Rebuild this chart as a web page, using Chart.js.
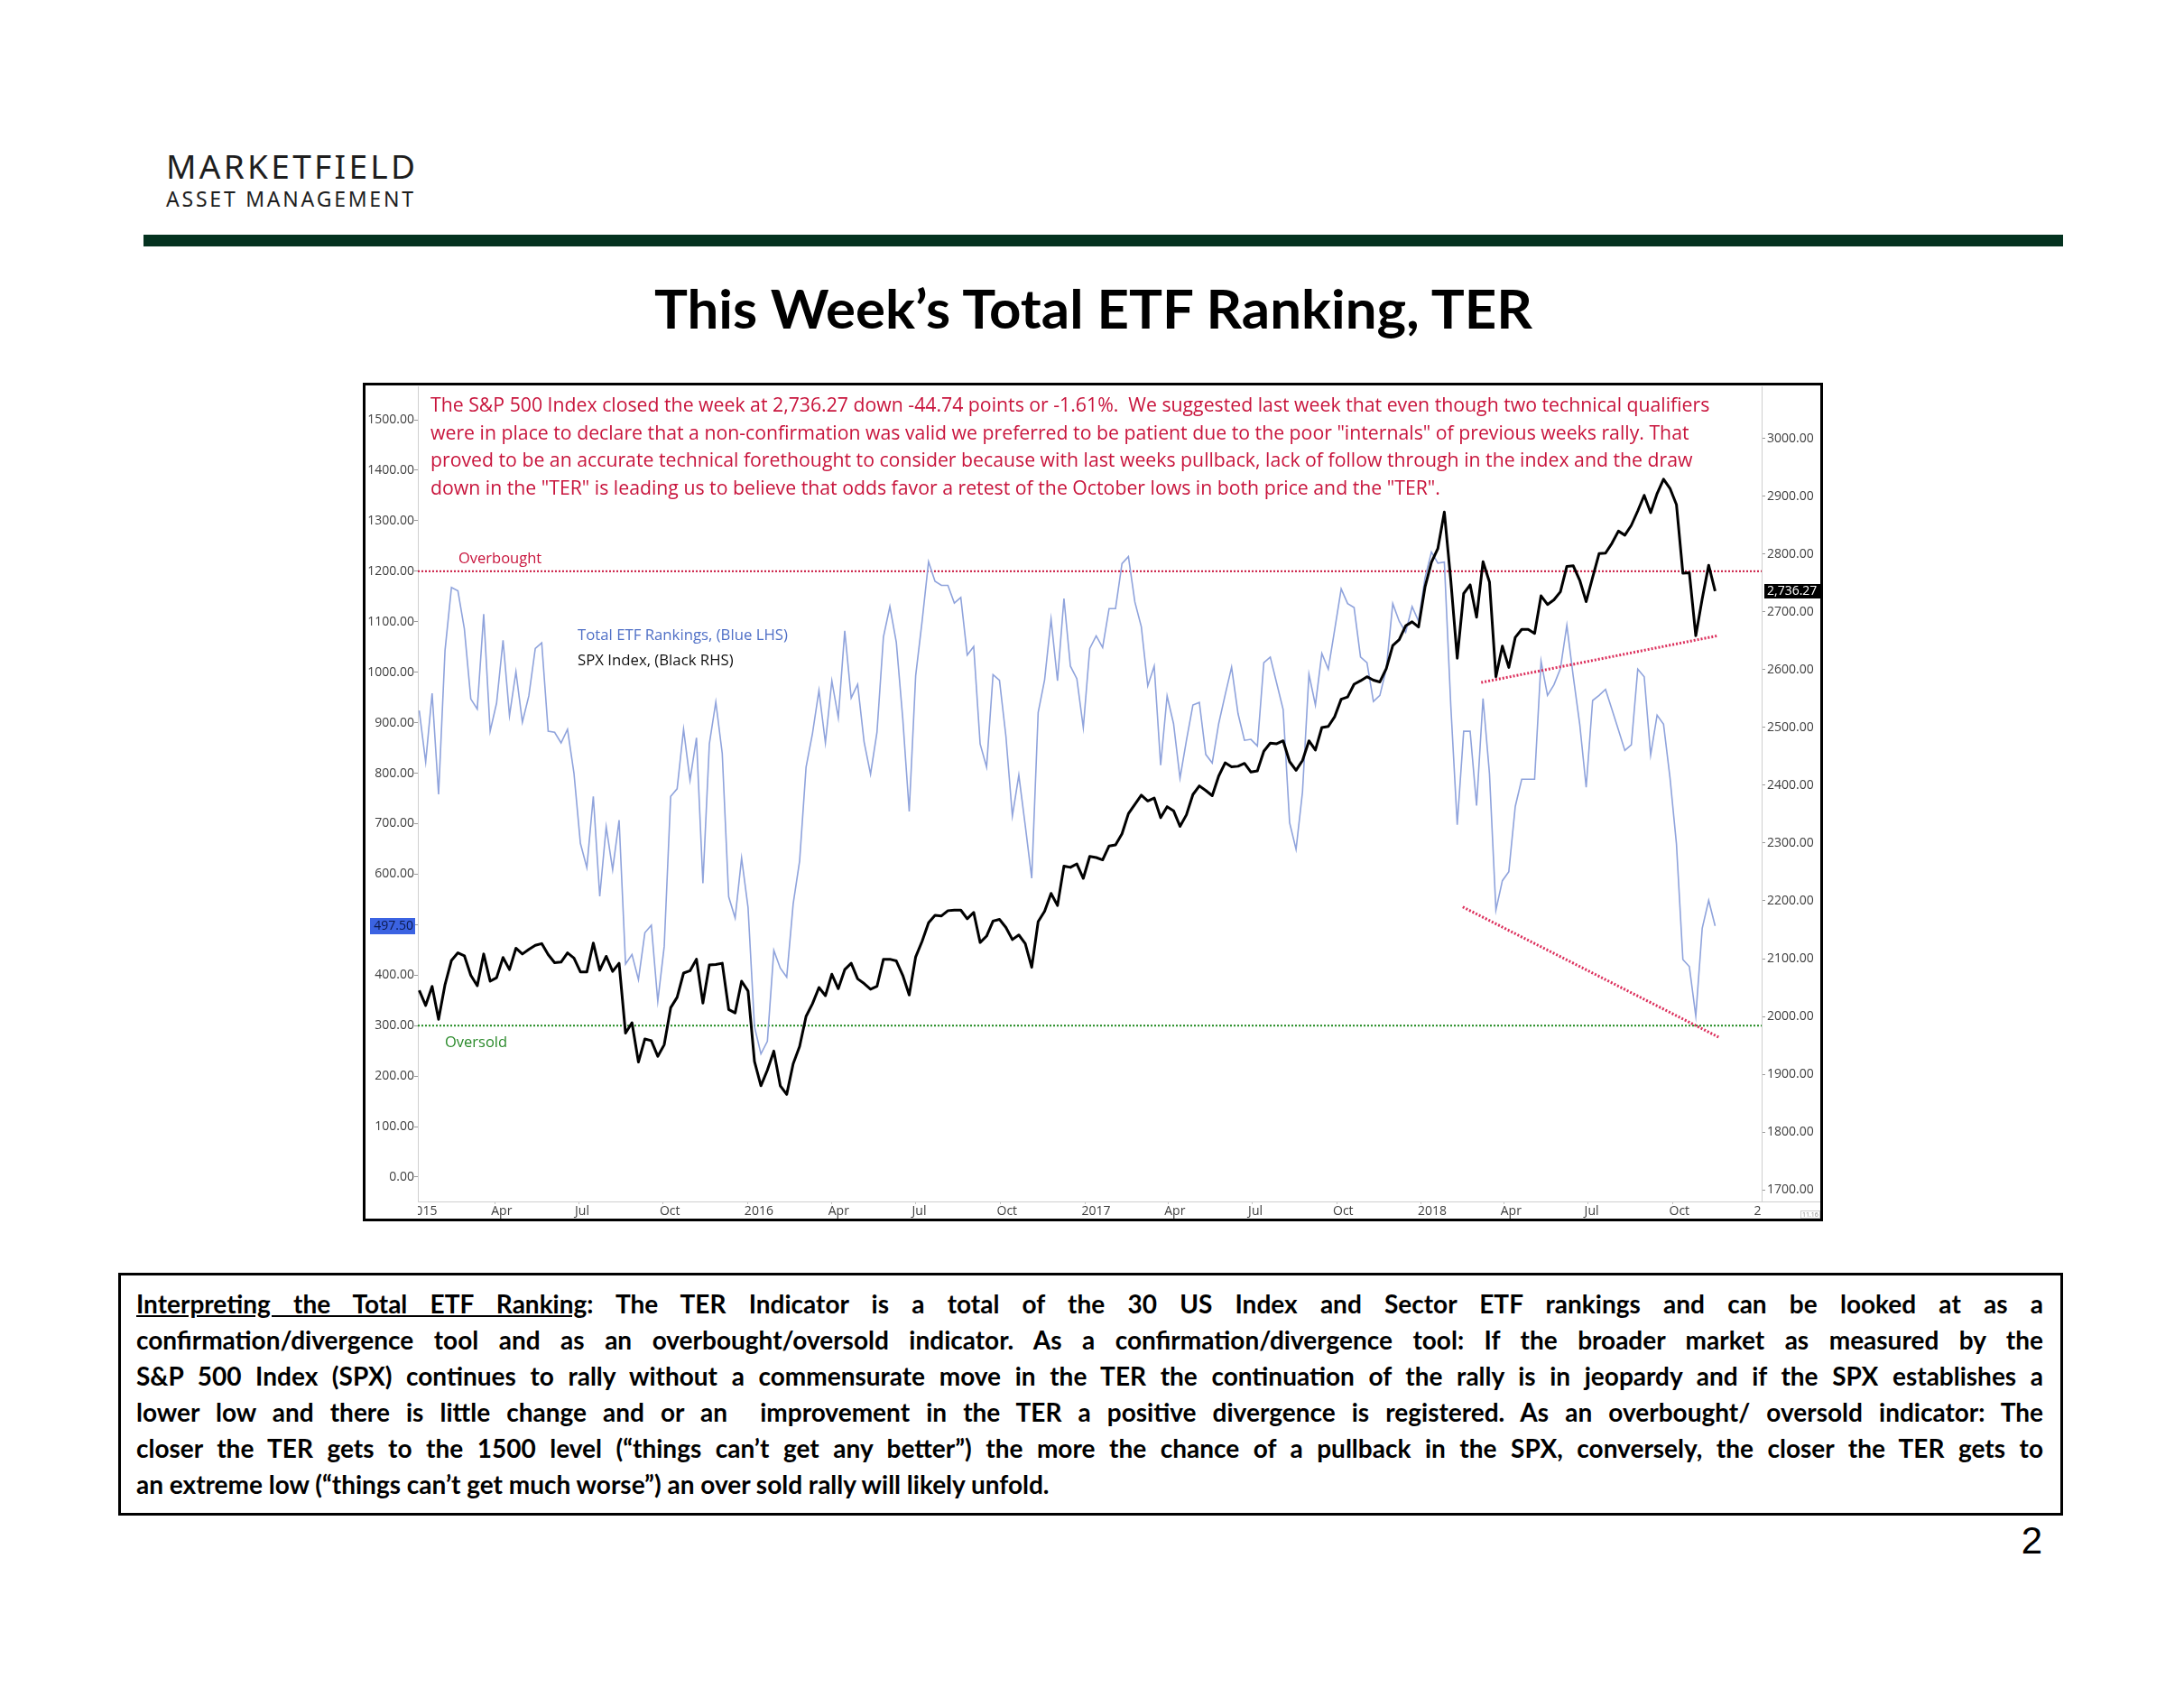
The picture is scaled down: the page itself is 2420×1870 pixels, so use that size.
<!DOCTYPE html>
<html>
<head>
<meta charset="utf-8">
<title>This Week's Total ETF Ranking, TER</title>
<script src="https://cdn.jsdelivr.net/npm/chart.js"></script>
<style>
  html, body { margin: 0; padding: 0; background: #fff; }
  body { width: 2420px; height: 1870px; position: relative; overflow: hidden; font-family: 'Open Sans', sans-serif; }
  .abs { position: absolute; white-space: pre; line-height: 1; }
  #logo1 { left: 184px; top: 158px; font: 400 37px 'Noto Sans', sans-serif; color: #1e1e1e; }
  #logo2 { left: 184px; top: 203.5px; font: 400 23px 'Noto Sans', sans-serif; color: #1e1e1e; }
  #bar { position: absolute; left: 159px; top: 260px; width: 2127px; height: 13px; background: #04321f; }
  #title { left: 725px; top: 305px; font: 700 60px Lato, sans-serif; color: #000; transform-origin: 0 0; }
  #chartBox { position: absolute; left: 402px; top: 424px; width: 1612px; height: 923px; border: 3px solid #000; }
  #chartBox canvas { position: absolute; left: 0; top: 0; }
  #note { left: 477px; top: 433px; font-size: 20px; line-height: 30.5px; color: #c8143c; }
  #overbought { left: 508px; top: 610px; font-size: 16.5px; color: #c8143c; }
  #oversold { left: 493px; top: 1146px; font-size: 16.5px; color: #2a8a2a; }
  #legend { left: 640px; top: 688.5px; font-size: 15.5px; line-height: 28px; }
  #stamp { left: 1995px; top: 1341px; font-size: 7px; color: #888; border: 1px solid #ccc; padding: 0 1px; }
  #notesBox { position: absolute; left: 131px; top: 1410px; width: 2149px; height: 263px; border: 3.5px solid #000; }
  #notes { position: absolute; left: 151px; top: 1424px; width: 2113px; font: 700 28px Lato, sans-serif; color: #000; }
  #notes .ln { height: 40px; line-height: 40px; white-space: pre; }
  #pageNo { left: 2200px; width: 63px; text-align: right; top: 1683px; font: 400 42px 'Liberation Sans', Arial, sans-serif; color: #000; }
</style>
</head>
<body>

<div id="logo1" class="abs">MARKETFIELD</div>
<div id="logo2" class="abs">ASSET MANAGEMENT</div>
<div id="bar"></div>
<div id="title" class="abs">This Week’s Total ETF Ranking, TER</div>

<div id="chartBox"><canvas id="terChart" width="1612" height="923"></canvas></div>

<div id="note" class="abs"><span class="nl">The S&amp;P 500 Index closed the week at 2,736.27 down -44.74 points or -1.61%.  We suggested last week that even though two technical qualifiers</span>
<span class="nl">were in place to declare that a non-confirmation was valid we preferred to be patient due to the poor "internals" of previous weeks rally. That</span>
<span class="nl">proved to be an accurate technical forethought to consider because with last weeks pullback, lack of follow through in the index and the draw</span>
<span class="nl">down in the "TER" is leading us to believe that odds favor a retest of the October lows in both price and the "TER".</span></div>
<div id="overbought" class="abs">Overbought</div>
<div id="oversold" class="abs">Oversold</div>
<div id="legend" class="abs"><span id="leg1" style="color:#4f6fc6">Total ETF Rankings, (Blue LHS)</span>
<span style="color:#111">SPX Index, (Black RHS)</span></div>
<div id="stamp" class="abs">11.16</div>

<div id="notesBox"></div>
<div id="notes">
  <div class="ln"><span><u>Interpreting the Total ETF Ranking</u>: The TER Indicator is a total of the 30 US Index and Sector ETF rankings and can be looked at as a</span></div>
  <div class="ln"><span>confirmation/divergence tool and as an overbought/oversold indicator. As a confirmation/divergence tool: If the broader market as measured by the</span></div>
  <div class="ln"><span>S&amp;P 500 Index (SPX) continues to rally without a commensurate move in the TER the continuation of the rally is in jeopardy and if the SPX establishes a</span></div>
  <div class="ln"><span>lower low and there is little change and or an  improvement in the TER a positive divergence is registered. As an overbought/ oversold indicator: The</span></div>
  <div class="ln"><span>closer the TER gets to the 1500 level (“things can’t get any better”) the more the chance of a pullback in the SPX, conversely, the closer the TER gets to</span></div>
  <div class="ln last"><span>an extreme low (“things can’t get much worse”) an over sold rally will likely unfold.</span></div>
</div>
<div id="pageNo" class="abs">2</div>

<script>
// ---- data (weekly closes, first week ending 2015-01-09) ----
const firstWeek = '2015-01-09';

// Total ETF Ranking (blue, left axis)
const ter = [
  924, 822, 958, 758, 1043, 1168, 1161, 1086, 947, 927,
  1115, 883, 939, 1063, 914, 1001, 901, 953, 1047, 1058,
  883, 881, 860, 887, 800, 661, 613, 754, 556, 694,
  609, 707, 422, 441, 391, 484, 499, 348, 457, 754,
  769, 887, 786, 870, 582, 858, 941, 839, 555, 513,
  632, 534, 298, 244, 269, 449, 414, 396, 541, 626,
  812, 879, 964, 860, 983, 910, 1082, 949, 976, 862,
  798, 881, 1070, 1130, 1059, 908, 724, 993, 1101, 1219,
  1180, 1172, 1172, 1137, 1148, 1034, 1051, 858, 812, 995,
  984, 873, 715, 796, 696, 592, 920, 985, 1105, 983,
  1146, 1012, 987, 890, 1047, 1072, 1049, 1126, 1126, 1215,
  1229, 1139, 1090, 973, 1012, 816, 953, 898, 790, 865,
  935, 940, 837, 820, 898, 955, 1010, 918, 865, 867,
  854, 1019, 1030, 978, 926, 702, 649, 763, 996, 935,
  1037, 1006, 1085, 1165, 1136, 1128, 1030, 1019, 942, 954,
  1007, 1136, 1101, 1079, 1130, 1101, 1187, 1238, 1216, 1218,
  934, 698, 883, 883, 736, 948, 799, 529, 587, 605,
  734, 788, 788, 788, 1022, 954, 975, 1007, 1093, 991,
  897, 772, 944, 954, 966, 926, 886, 845, 856, 1006,
  991, 836, 915, 897, 791, 660, 431, 417, 319, 493,
  548, 497.5
];

// S&P 500 (black, right axis)
const spx = [
  2045, 2019, 2052, 1995, 2055, 2097, 2110, 2105, 2071, 2053,
  2108, 2061, 2067, 2102, 2081, 2118, 2108, 2116, 2123, 2126,
  2107, 2093, 2094, 2110, 2101, 2077, 2077, 2127, 2080, 2104,
  2078, 2092, 1971, 1989, 1921, 1961, 1958, 1931, 1951, 2015,
  2033, 2075, 2079, 2099, 2023, 2089, 2090, 2092, 2012, 2006,
  2061, 2044, 1922, 1880, 1907, 1940, 1880, 1865, 1918, 1948,
  2000, 2022, 2050, 2036, 2073, 2048, 2081, 2092, 2065, 2057,
  2047, 2052, 2099, 2099, 2096, 2071, 2037, 2103, 2130, 2162,
  2175, 2174, 2183, 2184, 2184, 2169, 2180, 2128, 2139, 2165,
  2168, 2154, 2133, 2141, 2126, 2085, 2164, 2182, 2213, 2192,
  2260, 2258, 2264, 2239, 2277, 2275, 2271, 2295, 2297, 2316,
  2351, 2367, 2383, 2373, 2378, 2344, 2363, 2356, 2329, 2349,
  2384, 2399, 2391, 2382, 2416, 2439, 2432, 2433, 2438, 2423,
  2425, 2459, 2473, 2472, 2477, 2441, 2426, 2443, 2477, 2461,
  2500, 2502, 2519, 2549, 2553, 2575, 2581, 2588, 2582, 2579,
  2602, 2642, 2652, 2676, 2683, 2674, 2743, 2786, 2810, 2873,
  2755, 2620, 2732, 2747, 2691, 2787, 2752, 2588, 2641, 2604,
  2656, 2670, 2670, 2663, 2728, 2713, 2721, 2735, 2779, 2780,
  2755, 2718, 2760, 2801, 2802, 2819, 2840, 2833, 2850, 2875,
  2902, 2872, 2905, 2930, 2914, 2886, 2767, 2768, 2659, 2723,
  2781, 2736.27
];

// reference levels (left axis)
const overboughtLevel = 1200;
const oversoldLevel   = 300;

// hand-drawn divergence lines
const spxTrendDates = ['2018-03-07', '2018-11-19'];
const spxTrendVals  = [2578, 2659];
const terTrendDates = ['2018-02-15', '2018-11-21'];
const terTrendVals  = [535, 276];

// axis ticks
const leftTicks  = [0, 100, 200, 300, 400, 500, 600, 700, 800, 900, 1000, 1100, 1200, 1300, 1400, 1500];
const rightTicks = [1700, 1800, 1900, 2000, 2100, 2200, 2300, 2400, 2500, 2600, 2700, 2800, 2900, 3000];
const xTickDates = ['2015-01-01', '2015-04-01', '2015-07-01', '2015-10-01',
                    '2016-01-01', '2016-04-01', '2016-07-01', '2016-10-01',
                    '2017-01-01', '2017-04-01', '2017-07-01', '2017-10-01',
                    '2018-01-01', '2018-04-01', '2018-07-01', '2018-10-01', '2019-01-01'];
const xTickLabels = ['2015', 'Apr', 'Jul', 'Oct', '2016', 'Apr', 'Jul', 'Oct',
                     '2017', 'Apr', 'Jul', 'Oct', '2018', 'Apr', 'Jul', 'Oct', '2019'];

// ---- helpers ----
const T0 = Date.UTC(2015, 0, 1);
const dayOf = s => (Date.parse(s + 'T00:00:00Z') - T0) / 86400000;
const weekDays = spx.map((_, i) => dayOf(firstWeek) + 7 * i);
const X_MIN = dayOf(firstWeek) - 1.5;
const X_MAX = X_MIN + 1459;
const xTickDays = xTickDates.map(dayOf);
const labelByDay = {};
xTickDays.forEach((d, i) => { labelByDay[d] = xTickLabels[i]; });
const inAxis = d => d >= X_MIN && d + 40 <= X_MAX;

const TICK_COLOR = '#3d3d3d';
const TICK_FONT  = { family: "'Open Sans'", size: 14 };

// fixed axis sizes, and no extra room reserved for overhanging labels
function fixSize(size) {
  return s => {
    if (s.isHorizontal()) s.height = size; else s.width = size;
    s.paddingTop = 0; s.paddingBottom = 0; s.paddingLeft = 0; s.paddingRight = 0;
  };
}

// x labels that straddle the plot edges get clipped like the original
const edgeLabels = {
  id: 'edgeLabels',
  afterDraw(chart) {
    const { ctx, chartArea: a, scales: { x } } = chart;
    ctx.save();
    ctx.beginPath();
    ctx.rect(a.left, a.bottom, a.right - a.left, chart.height - a.bottom);
    ctx.clip();
    ctx.font = "14px 'Open Sans'";
    ctx.fillStyle = TICK_COLOR;
    ctx.textAlign = 'left';
    ctx.textBaseline = 'middle';
    xTickDays.forEach((d, i) => {
      if (inAxis(d)) return;
      ctx.fillText(xTickLabels[i], x.getPixelForValue(d) - 4, a.bottom + 3 + 8.4);
    });
    ctx.restore();
    // axis line runs on under the right-hand labels
    ctx.save();
    ctx.strokeStyle = '#cfcfcf';
    ctx.lineWidth = 1;
    ctx.beginPath();
    ctx.moveTo(a.right, a.bottom + 0.5);
    ctx.lineTo(chart.width, a.bottom + 0.5);
    ctx.stroke();
    ctx.restore();
  }
};

// last-value tags on both axes
const lastValueTags = {
  id: 'lastValueTags',
  afterDraw(chart) {
    const { ctx, chartArea: a, scales: { yL, yR } } = chart;
    const tLast = ter[ter.length - 1];
    const sLast = spx[spx.length - 1];
    ctx.save();
    ctx.font = "14px 'Open Sans'";
    ctx.textBaseline = 'middle';

    const yb = yL.getPixelForValue(tLast);
    ctx.fillStyle = '#3b63e2';
    ctx.fillRect(a.left - 53, Math.round(yb) - 9, 50, 18);
    ctx.fillStyle = '#0c1a4d';
    ctx.textAlign = 'right';
    ctx.fillText(tLast.toFixed(2), a.left - 5, yb + 0.5);

    const yr = yR.getPixelForValue(sLast);
    ctx.fillStyle = '#000';
    ctx.fillRect(a.right + 3, Math.round(yr) - 8, chart.width - a.right - 3, 16);
    ctx.fillStyle = '#fff';
    ctx.textAlign = 'left';
    ctx.fillText(sLast.toLocaleString('en-US', { minimumFractionDigits: 2 }), a.right + 6, yr + 0.5);
    ctx.restore();
  }
};

function drawChart() {
  const ctx = document.getElementById('terChart');
  const pts = (xs, ys) => xs.map((x, i) => ({ x, y: ys[i] }));

  new Chart(ctx, {
    type: 'line',
    data: {
      datasets: [
        {
          label: 'SPX trend',
          data: pts(spxTrendDates.map(dayOf), spxTrendVals),
          yAxisID: 'yR', borderColor: '#dc2f5c', borderWidth: 3, borderDash: [2, 2],
          pointRadius: 0, order: 0,
        },
        {
          label: 'TER trend',
          data: pts(terTrendDates.map(dayOf), terTrendVals),
          yAxisID: 'yL', borderColor: '#dc2f5c', borderWidth: 3, borderDash: [2, 2],
          pointRadius: 0, order: 0,
        },
        {
          label: 'SPX Index',
          data: pts(weekDays, spx),
          yAxisID: 'yR', borderColor: '#000', borderWidth: 3,
          borderJoinStyle: 'round', pointRadius: 0, tension: 0, order: 1,
        },
        {
          label: 'Total ETF Rankings',
          data: pts(weekDays, ter),
          yAxisID: 'yL', borderColor: '#8fa3dc', borderWidth: 1.6,
          pointRadius: 0, tension: 0, order: 2,
        },
        {
          label: 'Overbought',
          data: pts([X_MIN, X_MAX], [overboughtLevel, overboughtLevel]),
          yAxisID: 'yL', borderColor: '#c8143c', borderWidth: 2, borderDash: [2, 2],
          pointRadius: 0, order: 3,
        },
        {
          label: 'Oversold',
          data: pts([X_MIN, X_MAX], [oversoldLevel, oversoldLevel]),
          yAxisID: 'yL', borderColor: '#1f8a1f', borderWidth: 2, borderDash: [2, 2],
          pointRadius: 0, order: 3,
        },
      ],
    },
    options: {
      responsive: false,
      animation: false,
      devicePixelRatio: 1,
      layout: { padding: { top: 1, left: 0, right: 0, bottom: 0 } },
      plugins: { legend: { display: false }, tooltip: { enabled: false } },
      scales: {
        x: {
          type: 'linear',
          min: X_MIN, max: X_MAX,
          afterFit: fixSize(19),
          afterBuildTicks: s => { s.ticks = xTickDays.filter(inAxis).map(v => ({ value: v })); },
          ticks: {
            autoSkip: false, maxRotation: 0, align: 'start', labelOffset: -4, padding: 0,
            color: TICK_COLOR, font: TICK_FONT,
            callback: v => labelByDay[v] || '',
          },
          grid: { drawOnChartArea: false, tickLength: 3, color: '#c4c4c4' },
          border: { color: '#cfcfcf' },
        },
        yL: {
          position: 'left',
          min: -48.3, max: 1566.2,
          afterFit: fixSize(58),
          afterBuildTicks: s => { s.ticks = leftTicks.map(v => ({ value: v })); },
          ticks: { padding: 0, color: TICK_COLOR, font: TICK_FONT, callback: v => v.toFixed(2) },
          grid: { drawOnChartArea: false, tickLength: 4, color: '#9a9a9a' },
          border: { color: '#cfcfcf' },
        },
        yR: {
          position: 'right',
          min: 1679.7, max: 3090.6,
          afterFit: fixSize(65),
          afterBuildTicks: s => { s.ticks = rightTicks.map(v => ({ value: v })); },
          ticks: { padding: 2, color: TICK_COLOR, font: TICK_FONT, callback: v => v.toFixed(2) },
          grid: { drawOnChartArea: false, tickLength: 4, color: '#9a9a9a' },
          border: { color: '#cfcfcf' },
        },
      },
    },
    plugins: [edgeLabels, lastValueTags],
  });
}

// ---- text fitting ----
function fitLetters(el, target) {
  const w = el.getBoundingClientRect().width;
  el.style.letterSpacing = ((target - w) / (el.textContent.length - 1)) + 'px';
}
function fitScaleX(el, target) {
  const w = el.getBoundingClientRect().width;
  el.style.transform = `scaleX(${target / w})`;
}
function fitFont(el, probe, target) {
  const fs = parseFloat(getComputedStyle(el).fontSize);
  const w = probe.getBoundingClientRect().width;
  el.style.fontSize = (fs * target / w) + 'px';
}
function fitNotes() {
  const box = document.getElementById('notes');
  const W = box.clientWidth;
  const spans = [...box.querySelectorAll('.ln > span')];
  let fs = 28;
  for (let k = 0; k < 30; k++) {
    box.style.fontSize = fs + 'px';
    const maxW = Math.max(...spans.map(s => s.getBoundingClientRect().width));
    if (maxW <= W) break;
    fs -= 0.25;
  }
  // justify every line except the last one
  box.querySelectorAll('.ln:not(.last) > span').forEach(s => {
    const gaps = (s.textContent.match(/ /g) || []).length;
    const extra = W - s.getBoundingClientRect().width;
    s.style.wordSpacing = (extra / gaps) + 'px';
  });
}

function init() {
  fitLetters(document.getElementById('logo1'), 276);
  fitLetters(document.getElementById('logo2'), 274);
  fitScaleX(document.getElementById('title'), 973);
  fitFont(document.getElementById('note'), document.querySelector('#note .nl'), 1418);
  fitFont(document.getElementById('legend'), document.getElementById('leg1'), 233);
  fitNotes();
  drawChart();
}

if (document.fonts && document.fonts.ready) document.fonts.ready.then(init);
else window.addEventListener('load', init);
</script>
</body>
</html>
